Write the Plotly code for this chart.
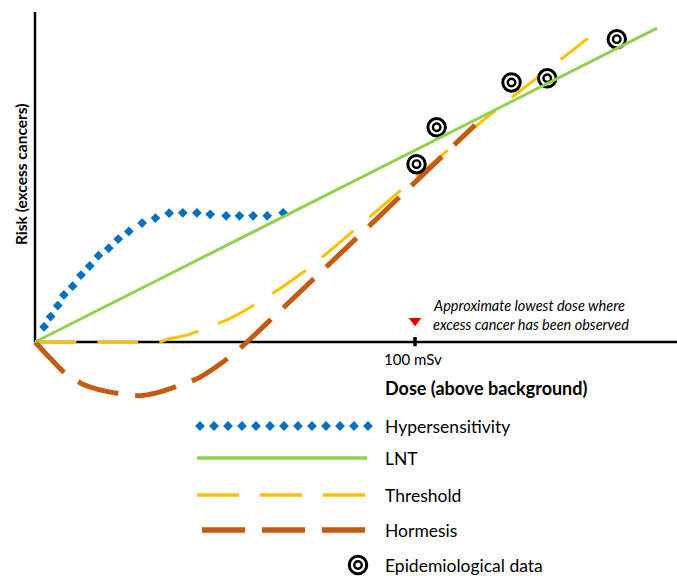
import numpy as np
import plotly.graph_objects as go

# ---- data: dose above background (mSv) vs. relative risk (arbitrary units) ----
hyper_dose = [2.4, 4.1, 6.0, 7.6, 9.9, 12.1, 14.4, 16.7, 19.4, 21.9, 24.7, 28.2,
              31.7, 35.3, 38.9, 42.6, 46.1, 50.3, 53.8, 57.4, 61.1, 65.3]
hyper_risk = [4.0, 6.7, 9.6, 12.4, 14.7, 17.6, 20.0, 22.7, 24.7, 27.1, 29.1, 31.3,
              32.6, 33.9, 34.0, 34.0, 33.6, 33.2, 33.2, 33.2, 33.2, 34.0]

lnt_dose = [0, 163.7]
lnt_risk = [0, 82.6]

threshold_dose = [0, 32.9, 35.0, 40.0, 44.7, 50.5, 56.6, 64.5, 72.4, 80.3, 96.8, 115.8, 126.3, 145.5]
threshold_risk = [0, 0, 0.8, 1.8, 3.5, 5.8, 9.1, 14.1, 19.7, 26.3, 40.4, 56.6, 65.0, 79.9]

hormesis_dose = [0, 4.2, 8.4, 12.6, 17.9, 23.4, 28.2, 33.4, 38.9, 43.2, 47.9, 52.4, 55.8, 115.8]
hormesis_risk = [0, -4.5, -8.7, -11.1, -12.8, -13.8, -14.1, -13.0, -11.1, -9.4, -6.4, -3.0, 0, 57.1]

epi_dose = [100.4, 105.7, 125.4, 134.8, 153.1]
epi_risk = [46.8, 56.5, 68.3, 69.4, 79.7]

lowest_dose = [100]
lowest_marker_risk = [5.6]

tick_dose = 100
tick_label = "100 mSv"

series_names = ["Hypersensitivity", "LNT", "Threshold", "Hormesis", "Epidemiological data"]

# ---- styling ----
W, H = 677, 576
SCALE = 3.8            # pixels per unit on both axes
ORIGIN_X, ORIGIN_Y = 35, 342
PLOT_BOTTOM = 410
FONT = "Lato"
INK = "#000000"
BLUE, GREEN, GOLD, BROWN = "#0070C0", "#92D050", "#FFC000", "#C55A11"
GOLD_DASH = "41px,21px"
BROWN_DASH = "42px,17px"

x_range = [-ORIGIN_X / SCALE, (W - ORIGIN_X) / SCALE]
y_range = [-(PLOT_BOTTOM - ORIGIN_Y) / SCALE, ORIGIN_Y / SCALE]
y_axis_top = (ORIGIN_Y - 12) / SCALE

fig = go.Figure()


def epi_markers(x, y, xa="x", ya="y"):
    """Bullseye marker: white disc with black ring plus a small inner ring."""
    fig.add_trace(go.Scatter(x=x, y=y, mode="markers", xaxis=xa, yaxis=ya,
                             marker=dict(symbol="circle", size=17.5, color="white",
                                         line=dict(color=INK, width=3)),
                             showlegend=False, hoverinfo="skip", cliponaxis=False))
    fig.add_trace(go.Scatter(x=x, y=y, mode="markers", xaxis=xa, yaxis=ya,
                             marker=dict(symbol="circle", size=7.5, color="white",
                                         line=dict(color=INK, width=2.4)),
                             showlegend=False, hoverinfo="skip", cliponaxis=False))


# ---- main curves ----
fig.add_trace(go.Scatter(x=threshold_dose, y=threshold_risk, mode="lines",
                         line=dict(color=GOLD, width=3, dash=GOLD_DASH, shape="spline", smoothing=0.4),
                         name=series_names[2], showlegend=False))
fig.add_trace(go.Scatter(x=hormesis_dose, y=hormesis_risk, mode="lines",
                         line=dict(color=BROWN, width=5, dash=BROWN_DASH, shape="spline", smoothing=0.6),
                         name=series_names[3], showlegend=False))
fig.add_trace(go.Scatter(x=hyper_dose, y=hyper_risk, mode="markers",
                         marker=dict(symbol="diamond", size=7.5, color=BLUE),
                         name=series_names[0], showlegend=False))
epi_markers(epi_dose, epi_risk)
fig.add_trace(go.Scatter(x=lnt_dose, y=lnt_risk, mode="lines",
                         line=dict(color=GREEN, width=3),
                         name=series_names[1], showlegend=False))
fig.add_trace(go.Scatter(x=lowest_dose, y=lowest_marker_risk, mode="markers",
                         marker=dict(symbol="triangle-down", size=11, color="#E00000"),
                         showlegend=False, hoverinfo="skip"))

# ---- axes drawn as lines ----
shapes = [
    dict(type="line", xref="x", yref="y", x0=0, x1=x_range[1], y0=0, y1=0,
         line=dict(color=INK, width=2.5), layer="below"),
    dict(type="line", xref="x", yref="y", x0=0, x1=0, y0=0, y1=y_axis_top,
         line=dict(color=INK, width=2.5), layer="below"),
    dict(type="line", xref="x", yref="y", x0=tick_dose, x1=tick_dose, y0=1.3, y1=-1.1,
         line=dict(color=INK, width=3.5), layer="below"),
]

# ---- key drawn beneath the chart (pixel-unit subplot) ----
key_x0, key_x1 = 197, 367
key_rows = [426, 458, 495, 530, 565]
fig.add_trace(go.Scatter(x=np.linspace(200, 368, 13), y=[key_rows[0]] * 13, mode="markers",
                         xaxis="x2", yaxis="y2", marker=dict(symbol="diamond", size=7.5, color=BLUE),
                         showlegend=False, hoverinfo="skip", cliponaxis=False))
fig.add_trace(go.Scatter(x=[key_x0, key_x1], y=[key_rows[1]] * 2, mode="lines",
                         xaxis="x2", yaxis="y2", line=dict(color=GREEN, width=3.5),
                         showlegend=False, hoverinfo="skip"))
fig.add_trace(go.Scatter(x=[key_x0, key_x1], y=[key_rows[2]] * 2, mode="lines",
                         xaxis="x2", yaxis="y2", line=dict(color=GOLD, width=3.5, dash="42px,21px"),
                         showlegend=False, hoverinfo="skip"))
fig.add_trace(go.Scatter(x=[202, 366], y=[key_rows[3]] * 2, mode="lines",
                         xaxis="x2", yaxis="y2", line=dict(color=BROWN, width=5.5, dash="43px,17px"),
                         showlegend=False, hoverinfo="skip"))
epi_markers([358], [key_rows[4]], "x2", "y2")


def px_label(text, px, py, size, bold=False, italic=False, xanchor="left", angle=0):
    if bold:
        text = f"<b>{text}</b>"
    if italic:
        text = f"<i>{text}</i>"
    return dict(text=text, x=px / W, y=1 - py / H, xref="paper", yref="paper",
                xanchor=xanchor, yanchor="middle", showarrow=False, textangle=angle,
                font=dict(family=FONT, size=size, color=INK), borderpad=0)


annotations = [
    px_label("Risk (excess cancers)", 21, 174, 15.5, bold=True, xanchor="center", angle=-90),
    px_label(tick_label, 413, 359, 15, xanchor="center"),
    px_label("Dose (above background)", 384, 388, 18, bold=True),
    px_label("Approximate lowest dose where", 432, 305, 14.5, italic=True),
    px_label("excess cancer has been observed", 432, 324, 14.5, italic=True),
]
for name, row in zip(series_names, key_rows):
    annotations.append(px_label(name, 384, row, 17.5))

fig.update_layout(
    width=W, height=H,
    margin=dict(l=0, r=0, t=0, b=0),
    paper_bgcolor="white", plot_bgcolor="white",
    xaxis=dict(domain=[0, 1], range=x_range, visible=False),
    yaxis=dict(domain=[(H - PLOT_BOTTOM) / H, 1], range=y_range, visible=False),
    xaxis2=dict(domain=[0, 1], range=[0, W], visible=False, anchor="y2"),
    yaxis2=dict(domain=[0, (H - PLOT_BOTTOM) / H], range=[H, PLOT_BOTTOM], visible=False, anchor="x2"),
    shapes=shapes,
    annotations=annotations,
    showlegend=False,
)

fig.write_html("out.html")
